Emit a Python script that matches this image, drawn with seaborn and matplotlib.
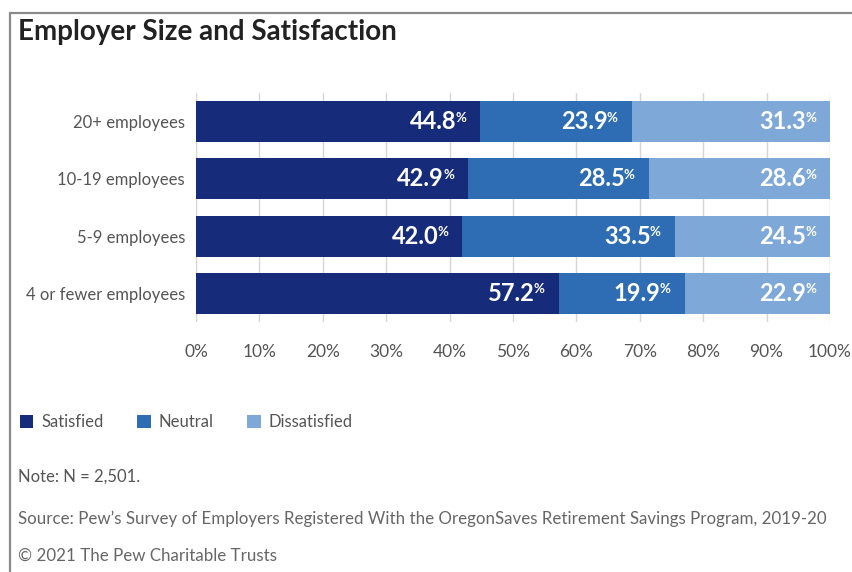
import matplotlib
matplotlib.use("Agg")
import matplotlib.pyplot as plt
from matplotlib.patches import Patch
from matplotlib.lines import Line2D
import seaborn as sns
import pandas as pd
import numpy as np

# Survey results by employer size (percent of respondents)
categories = ["20+ employees", "10-19 employees", "5-9 employees", "4 or fewer employees"]
satisfied = [44.8, 42.9, 42.0, 57.2]
neutral = [23.9, 28.5, 33.5, 19.9]
dissatisfied = [31.3, 28.6, 24.5, 22.9]
series_names = ["Satisfied", "Neutral", "Dissatisfied"]
colors = ["#172b7b", "#2e6db4", "#7ea8d8"]
x_ticks = [0, 10, 20, 30, 40, 50, 60, 70, 80, 90, 100]

sns.set_theme(style="white")
plt.rcParams["font.family"] = ["Lato", "DejaVu Sans"]

df = pd.DataFrame({
    "category": categories,
    "Satisfied": satisfied,
    "Neutral": neutral,
    "Dissatisfied": dissatisfied,
})
df["cum_sat"] = df["Satisfied"]
df["cum_neu"] = df["Satisfied"] + df["Neutral"]
df["cum_dis"] = df["cum_neu"] + df["Dissatisfied"]

fig = plt.figure(figsize=(8.53, 5.72), dpi=100)
ax = fig.add_axes([196 / 853, 1 - 322 / 572, (830 - 196) / 853, (322 - 93) / 572])

# Stacked bars: draw the cumulative totals back to front
for col, color in zip(["cum_dis", "cum_neu", "cum_sat"], colors[::-1]):
    sns.barplot(data=df, y="category", x=col, orient="h", color=color,
                width=0.72, ax=ax, saturation=1, linewidth=0, zorder=3)

ax.set_xlim(0, 100)
ax.set_ylim(3.5, -0.5)
ax.set_xticks(x_ticks)
ax.set_xticklabels([f"{t}%" for t in x_ticks])
ax.set_xlabel("")
ax.set_ylabel("")
ax.grid(axis="x", color="#d6d6d6", linewidth=1, zorder=0)
ax.grid(axis="y", visible=False)
for s in ax.spines.values():
    s.set_visible(False)
ax.tick_params(axis="x", length=0, pad=16, labelsize=12.5, labelcolor="#555555")
ax.tick_params(axis="y", length=0, pad=8, labelsize=12, labelcolor="#555555")

# Value labels: number with a small raised percent sign, right-aligned in each segment
ends = [df["cum_sat"], df["cum_neu"], df["cum_dis"]]
values = [satisfied, neutral, dissatisfied]
for series_vals, series_ends in zip(values, ends):
    for i, (v, e) in enumerate(zip(series_vals, series_ends)):
        ax.annotate("%", xy=(e, i), xytext=(-14, 4), textcoords="offset pixels",
                    ha="right", va="center", color="white", fontsize=9.5,
                    fontweight="bold", zorder=5)
        ax.annotate(f"{v:.1f}", xy=(e, i), xytext=(-24, 0), textcoords="offset pixels",
                    ha="right", va="center", color="white", fontsize=17,
                    fontweight="bold", zorder=5)

# Title
fig.text(18 / 853, 1 - 32 / 572, "Employer Size and Satisfaction", ha="left", va="center",
         fontsize=20, fontweight="bold", color="#222222")

# Legend
handles = [Patch(facecolor=c, edgecolor="none") for c in colors]
fig.legend(handles, series_names, loc="center left", bbox_to_anchor=(20 / 853, 1 - 422 / 572),
           ncol=3, frameon=False, handlelength=0.8, handleheight=0.8, handletextpad=0.5,
           columnspacing=2.0, fontsize=12, labelcolor="#555555",
           borderpad=0, borderaxespad=0)

# Notes
fig.text(18 / 853, 1 - 477 / 572, "Note: N = 2,501.", ha="left", va="center",
         fontsize=12, color="#555555")
fig.text(18 / 853, 1 - 519 / 572,
         "Source: Pew\u2019s Survey of Employers Registered With the OregonSaves Retirement Savings Program, 2019-20",
         ha="left", va="center", fontsize=12.2, color="#666666")
fig.text(18 / 853, 1 - 556 / 572, "\u00a9 2021 The Pew Charitable Trusts", ha="left", va="center",
         fontsize=12.2, color="#666666")

# Frame along the top and left edges
fig.add_artist(Line2D([10 / 853, 10 / 853], [0, 1 - 13 / 572], transform=fig.transFigure,
                      color="#8a8a8a", linewidth=1.6))
fig.add_artist(Line2D([10 / 853, 1], [1 - 13 / 572, 1 - 13 / 572], transform=fig.transFigure,
                      color="#8a8a8a", linewidth=1.6))

fig.savefig("out.png", dpi=100)
